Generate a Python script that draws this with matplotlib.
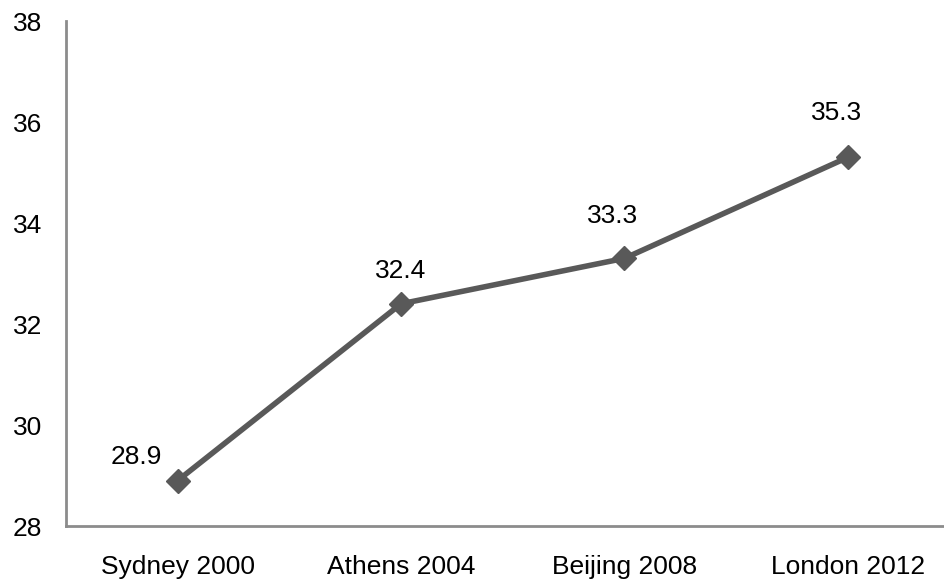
import matplotlib
matplotlib.use("Agg")
import matplotlib.pyplot as plt

categories = ["Sydney 2000", "Athens 2004", "Beijing 2008", "London 2012"]
values = [28.9, 32.4, 33.3, 35.3]
yticks = [28, 30, 32, 34, 36, 38]

# label offsets in pixels (style only)
label_offsets = [(-41, 24), (0, 33), (-12, 42), (-11, 44)]

plt.rcParams['font.family'] = ['Liberation Sans', 'DejaVu Sans']

fig = plt.figure(figsize=(9.45, 5.82), dpi=100)
ax = fig.add_axes([66/945, 56/582, (959.5-66)/945, (526-21)/582])

x = list(range(len(categories)))
ax.plot(x, values, color='#595959', lw=4, marker='D', markersize=12.5,
        markerfacecolor='#595959', markeredgecolor='#595959', zorder=3)

for xi, v, (dx, dy) in zip(x, values, label_offsets):
    ax.annotate(f"{v:.1f}", (xi, v), xytext=(dx*0.72, dy*0.72),
                textcoords='offset points', ha='center', va='center',
                fontsize=19, color='black')

ax.set_xlim(-0.5, 3.5)
ax.set_ylim(28, 38)
ax.set_xticks(x)
ax.set_xticklabels(categories)
ax.set_yticks(yticks)
ax.set_yticklabels([str(t) for t in yticks])
ax.tick_params(axis='both', length=0, labelsize=19, colors='black')
ax.tick_params(axis='y', pad=17)
ax.tick_params(axis='x', pad=21)

for s in ['top', 'right']:
    ax.spines[s].set_visible(False)
for s in ['left', 'bottom']:
    ax.spines[s].set_color('#8c8c8c')
    ax.spines[s].set_linewidth(2)

fig.savefig("out.png", dpi=100)
